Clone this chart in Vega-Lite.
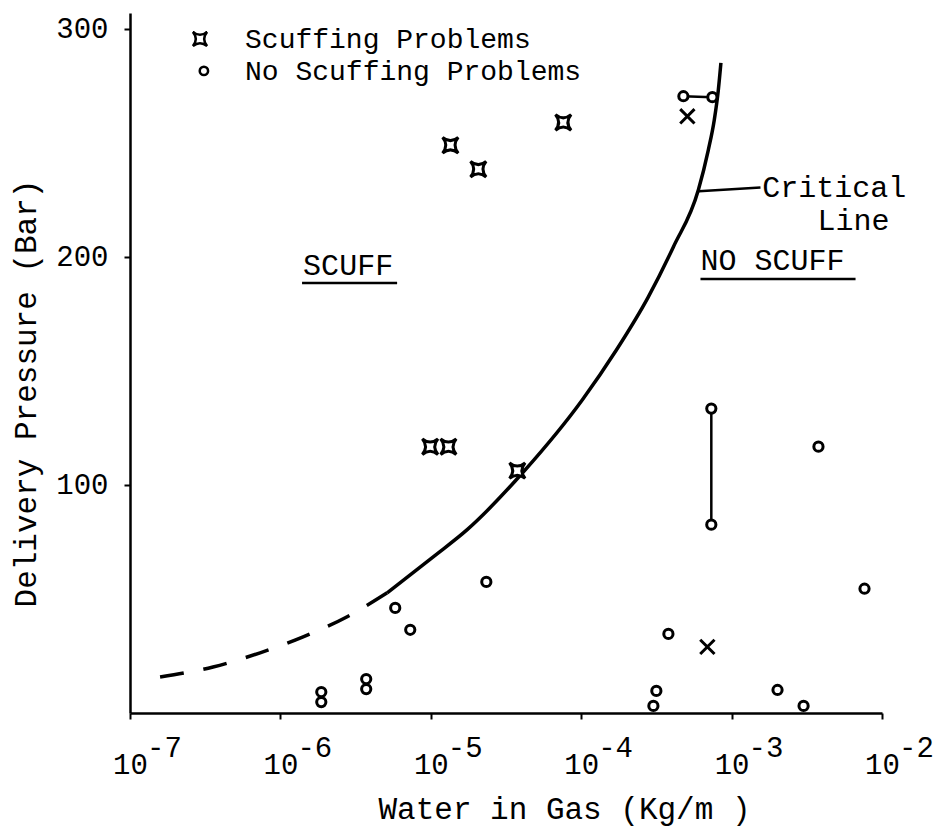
{
  "$schema": "https://vega.github.io/schema/vega-lite/v6.json",
  "width": 752,
  "height": 700,
  "autosize": {"type": "none"},
  "padding": {"left": 130, "top": 13, "right": 53, "bottom": 115},
  "background": "white",
  "config": {
    "view": {"stroke": null},
    "font": "Liberation Mono",
    "text": {"font": "Liberation Mono", "color": "black"}
  },
  "datasets": {
    "points": [
      {"x": 1.35e-5, "y": 249.0, "type": "Scuffing Problems", "glyph": "star"},
      {"x": 2.07e-5, "y": 238.5, "type": "Scuffing Problems", "glyph": "star"},
      {"x": 7.6e-5, "y": 259.0, "type": "Scuffing Problems", "glyph": "star"},
      {"x": 9.9e-6, "y": 116.8, "type": "Scuffing Problems", "glyph": "star"},
      {"x": 1.31e-5, "y": 116.8, "type": "Scuffing Problems", "glyph": "star"},
      {"x": 3.76e-5, "y": 106.3, "type": "Scuffing Problems", "glyph": "star"},
      {"x": 5.08e-4, "y": 261.7, "type": "Scuffing Problems", "glyph": "cross"},
      {"x": 6.9e-4, "y": 29.0, "type": "Scuffing Problems", "glyph": "cross"},
      {"x": 4.78e-4, "y": 270.5, "type": "No Scuffing Problems", "glyph": "circle", "pair": "a"},
      {"x": 7.45e-4, "y": 270.1, "type": "No Scuffing Problems", "glyph": "circle", "pair": "a"},
      {"x": 7.33e-4, "y": 133.5, "type": "No Scuffing Problems", "glyph": "circle", "pair": "b"},
      {"x": 7.33e-4, "y": 82.6, "type": "No Scuffing Problems", "glyph": "circle", "pair": "b"},
      {"x": 2.34e-5, "y": 57.5, "type": "No Scuffing Problems", "glyph": "circle"},
      {"x": 5.8e-6, "y": 46.1, "type": "No Scuffing Problems", "glyph": "circle"},
      {"x": 7.3e-6, "y": 36.5, "type": "No Scuffing Problems", "glyph": "circle"},
      {"x": 3.8e-4, "y": 34.7, "type": "No Scuffing Problems", "glyph": "circle"},
      {"x": 3.16e-4, "y": 9.7, "type": "No Scuffing Problems", "glyph": "circle"},
      {"x": 3.02e-4, "y": 3.1, "type": "No Scuffing Problems", "glyph": "circle"},
      {"x": 3.78e-3, "y": 116.8, "type": "No Scuffing Problems", "glyph": "circle"},
      {"x": 7.65e-3, "y": 54.5, "type": "No Scuffing Problems", "glyph": "circle"},
      {"x": 2.02e-3, "y": 10.1, "type": "No Scuffing Problems", "glyph": "circle"},
      {"x": 3.01e-3, "y": 3.1, "type": "No Scuffing Problems", "glyph": "circle"},
      {"x": 1.87e-6, "y": 9.2, "type": "No Scuffing Problems", "glyph": "circle"},
      {"x": 1.87e-6, "y": 4.8, "type": "No Scuffing Problems", "glyph": "circle"},
      {"x": 3.72e-6, "y": 14.9, "type": "No Scuffing Problems", "glyph": "circle"},
      {"x": 3.72e-6, "y": 10.5, "type": "No Scuffing Problems", "glyph": "circle"}
    ],
    "legendKeys": [
      {"x": 2.92e-7, "y": 295.6, "type": "Scuffing Problems"},
      {"x": 3.1e-7, "y": 281.6, "type": "No Scuffing Problems"}
    ],
    "legendLabels": [
      {"x": 5.82e-7, "y": 291.7, "text": "Scuffing Problems"},
      {"x": 5.82e-7, "y": 277.6, "text": "No Scuffing Problems"}
    ],
    "curve": [
      {"x": 1.585e-7, "y": 15.8, "seg": "dashed"},
      {"x": 3.565e-7, "y": 20.2, "seg": "dashed"},
      {"x": 7.33e-7, "y": 26.4, "seg": "dashed"},
      {"x": 1.416e-6, "y": 33.4, "seg": "dashed"},
      {"x": 2.78e-6, "y": 42.2, "seg": "dashed"},
      {"x": 5.13e-6, "y": 52.7, "seg": "dashed"},
      {"x": 5.13e-6, "y": 52.7, "seg": "solid"},
      {"x": 1.038e-5, "y": 68.5, "seg": "solid"},
      {"x": 1.746e-5, "y": 80.4, "seg": "solid"},
      {"x": 4.12e-5, "y": 105.7, "seg": "solid"},
      {"x": 1.016e-4, "y": 137.3, "seg": "solid"},
      {"x": 1.714e-4, "y": 159.2, "seg": "solid"},
      {"x": 2.79e-4, "y": 182.4, "seg": "solid"},
      {"x": 4.1e-4, "y": 204.4, "seg": "solid"},
      {"x": 6.01e-4, "y": 229.4, "seg": "solid"},
      {"x": 7.0e-4, "y": 246.9, "seg": "solid"},
      {"x": 7.67e-4, "y": 260.1, "seg": "solid"},
      {"x": 8.16e-4, "y": 273.2, "seg": "solid"},
      {"x": 8.49e-4, "y": 285.1, "seg": "solid"}
    ],
    "rules": [
      {"x": 1.393e-6, "xe": 5.97e-6, "y": 188.6, "ye": 188.6},
      {"x": 6.21e-4, "xe": 6.67e-3, "y": 190.3, "ye": 190.3},
      {"x": 6.05e-4, "xe": 1.556e-3, "y": 228.8, "ye": 230.5}
    ],
    "notes": [
      {"x": 1.416e-6, "y": 192.1, "text": "SCUFF"},
      {"x": 6.21e-4, "y": 194.3, "text": "NO SCUFF"},
      {"x": 1.6e-3, "y": 226.3, "text": "Critical"},
      {"x": 3.72e-3, "y": 211.8, "text": "Line"}
    ],
    "exponents": [
      {"x": 1e-7, "y": 0, "exp": "-7"},
      {"x": 1e-6, "y": 0, "exp": "-6"},
      {"x": 1e-5, "y": 0, "exp": "-5"},
      {"x": 1e-4, "y": 0, "exp": "-4"},
      {"x": 1e-3, "y": 0, "exp": "-3"},
      {"x": 1e-2, "y": 0, "exp": "-2"}
    ]
  },
  "encoding": {
    "x": {
      "field": "x",
      "type": "quantitative",
      "scale": {"type": "log", "domain": [1e-7, 1e-2], "nice": false},
      "axis": {
        "values": [1e-7, 1e-6, 1e-5, 1e-4, 1e-3, 1e-2],
        "labelExpr": "'10'",
        "labelFont": "Liberation Mono",
        "labelFontSize": 29,
        "labelColor": "black",
        "labelBaseline": "alphabetic",
        "labelPadding": 54,
        "labelFlush": false,
        "labelOverlap": false,
        "tickSize": 6,
        "tickWidth": 2,
        "tickColor": "black",
        "domainColor": "black",
        "domainWidth": 2.5,
        "grid": false,
        "title": "Water in Gas (Kg/m )",
        "titleFont": "Liberation Mono",
        "titleFontSize": 31,
        "titleFontWeight": "normal",
        "titleColor": "black",
        "titleX": 434,
        "titleY": 105,
        "titleAlign": "center",
        "titleBaseline": "alphabetic"
      }
    },
    "y": {
      "field": "y",
      "type": "quantitative",
      "scale": {"domain": [0, 307], "nice": false, "zero": true},
      "axis": {
        "values": [100, 200, 300],
        "labelFont": "Liberation Mono",
        "labelFontSize": 29,
        "labelColor": "black",
        "labelPadding": 16,
        "tickSize": 6,
        "tickWidth": 2,
        "tickColor": "black",
        "domainColor": "black",
        "domainWidth": 2.5,
        "grid": false,
        "title": "Delivery Pressure (Bar)",
        "titleFont": "Liberation Mono",
        "titleFontSize": 31,
        "titleFontWeight": "normal",
        "titleColor": "black",
        "titleAngle": 270,
        "titleX": -95,
        "titleY": 380,
        "titleAlign": "center",
        "titleBaseline": "alphabetic"
      }
    }
  },
  "layer": [
    {
      "data": {"name": "rules"},
      "mark": {"type": "rule", "color": "black", "strokeWidth": 2.5},
      "encoding": {
        "x2": {"field": "xe"},
        "y2": {"field": "ye"}
      }
    },
    {
      "data": {"name": "curve"},
      "transform": [{"filter": "datum.seg === 'dashed'"}],
      "mark": {"type": "line", "color": "black", "strokeWidth": 3.5, "strokeDash": [24, 20], "interpolate": "monotone"},
      "encoding": {}
    },
    {
      "data": {"name": "curve"},
      "transform": [{"filter": "datum.seg === 'solid'"}],
      "mark": {"type": "line", "color": "black", "strokeWidth": 3.5, "interpolate": "monotone"},
      "encoding": {}
    },
    {
      "data": {"name": "points"},
      "transform": [{"filter": "datum.pair != null"}],
      "mark": {"type": "line", "color": "black", "strokeWidth": 2.5},
      "encoding": {"detail": {"field": "pair"}}
    },
    {
      "data": {"name": "points"},
      "transform": [{"filter": "datum.glyph === 'cross'"}],
      "mark": {"type": "point", "filled": false, "color": "black", "opacity": 1, "strokeWidth": 3, "size": 80, "shape": "M-1.6,-1.6L1.6,1.6M-1.6,1.6L1.6,-1.6"},
      "encoding": {}
    },
    {
      "data": {"name": "points"},
      "transform": [{"filter": "datum.glyph !== 'cross'"}],
      "mark": {"type": "point", "filled": false, "fill": "white", "color": "black", "stroke": "black", "strokeWidth": 3, "size": 85, "opacity": 1},
      "encoding": {
        "shape": {
          "field": "type",
          "type": "nominal",
          "scale": {
            "domain": ["Scuffing Problems", "No Scuffing Problems"],
            "range": ["M-1.7,-1.7Q0,-0.3 1.7,-1.7Q0.3,0 1.7,1.7Q0,0.3 -1.7,1.7Q-0.3,0 -1.7,-1.7Z", "circle"]
          },
          "legend": null
        }
      }
    },
    {
      "data": {"name": "legendKeys"},
      "mark": {"type": "point", "filled": false, "fill": "white", "color": "black", "stroke": "black", "strokeWidth": 2.5, "size": 70, "opacity": 1},
      "encoding": {
        "shape": {"field": "type", "type": "nominal", "legend": null}
      }
    },
    {
      "data": {"name": "legendLabels"},
      "mark": {"type": "text", "align": "left", "baseline": "alphabetic", "fontSize": 28, "font": "Liberation Mono", "color": "black"},
      "encoding": {"text": {"field": "text"}}
    },
    {
      "data": {"name": "notes"},
      "mark": {"type": "text", "align": "left", "baseline": "alphabetic", "fontSize": 30, "font": "Liberation Mono", "color": "black"},
      "encoding": {"text": {"field": "text"}}
    },
    {
      "data": {"name": "exponents"},
      "mark": {"type": "text", "align": "left", "baseline": "alphabetic", "fontSize": 29, "font": "Liberation Mono", "color": "black", "dx": 17, "dy": 44},
      "encoding": {"text": {"field": "exp"}}
    }
  ]
}
